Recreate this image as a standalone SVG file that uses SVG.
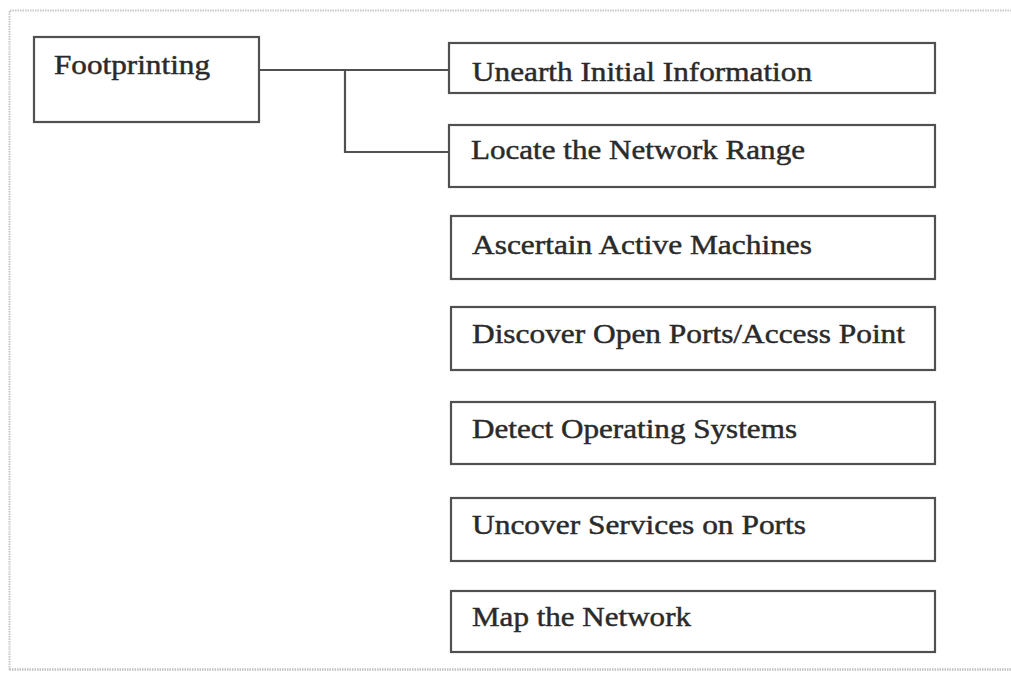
<svg xmlns="http://www.w3.org/2000/svg" width="1011" height="673" viewBox="0 0 1011 673">
<style>
.box{fill:#fff;stroke:#505050;stroke-width:2.2}
.lbl{font-family:"Liberation Serif","Times New Roman",serif;font-size:27px;fill:#2a2a2a;stroke:#2a2a2a;stroke-width:0.45}
.conn{fill:none;stroke:#505050;stroke-width:2.2}
</style>
<rect x="0" y="0" width="1011" height="673" fill="#fff"/>
<path d="M9.5 670 V10.5 H1011" fill="none" stroke="#c8c8c8" stroke-width="2" stroke-dasharray="1.5 1"/>
<path d="M9.5 669.5 H1011" fill="none" stroke="#c0c0c0" stroke-width="2.5" stroke-dasharray="1.5 1"/>
<g id="connectors">
<path class="conn" d="M259 70 H449"/>
<path class="conn" d="M345 70 V152 H449"/>
</g>
<g id="n-footprinting"><rect class="box" x="34" y="37" width="225" height="85"/><text class="lbl" x="54" y="74" textLength="156" lengthAdjust="spacingAndGlyphs">Footprinting</text></g>
<g id="n-unearth"><rect class="box" x="449" y="43" width="486" height="50"/><text class="lbl" x="472" y="81" textLength="340" lengthAdjust="spacingAndGlyphs">Unearth Initial Information</text></g>
<g id="n-locate"><rect class="box" x="449" y="125" width="486" height="62"/><text class="lbl" x="471" y="159" textLength="334" lengthAdjust="spacingAndGlyphs">Locate the Network Range</text></g>
<g id="n-ascertain"><rect class="box" x="451" y="216" width="484" height="63"/><text class="lbl" x="472" y="254" textLength="340" lengthAdjust="spacingAndGlyphs">Ascertain Active Machines</text></g>
<g id="n-discover"><rect class="box" x="451" y="307" width="484" height="63"/><text class="lbl" x="472" y="343" textLength="433" lengthAdjust="spacingAndGlyphs">Discover Open Ports/Access Point</text></g>
<g id="n-detect"><rect class="box" x="451" y="402" width="484" height="62"/><text class="lbl" x="472" y="438" textLength="325" lengthAdjust="spacingAndGlyphs">Detect Operating Systems</text></g>
<g id="n-uncover"><rect class="box" x="451" y="498" width="484" height="63"/><text class="lbl" x="472" y="534" textLength="334" lengthAdjust="spacingAndGlyphs">Uncover Services on Ports</text></g>
<g id="n-map"><rect class="box" x="451" y="591" width="484" height="61"/><text class="lbl" x="472" y="626" textLength="219" lengthAdjust="spacingAndGlyphs">Map the Network</text></g>
</svg>
